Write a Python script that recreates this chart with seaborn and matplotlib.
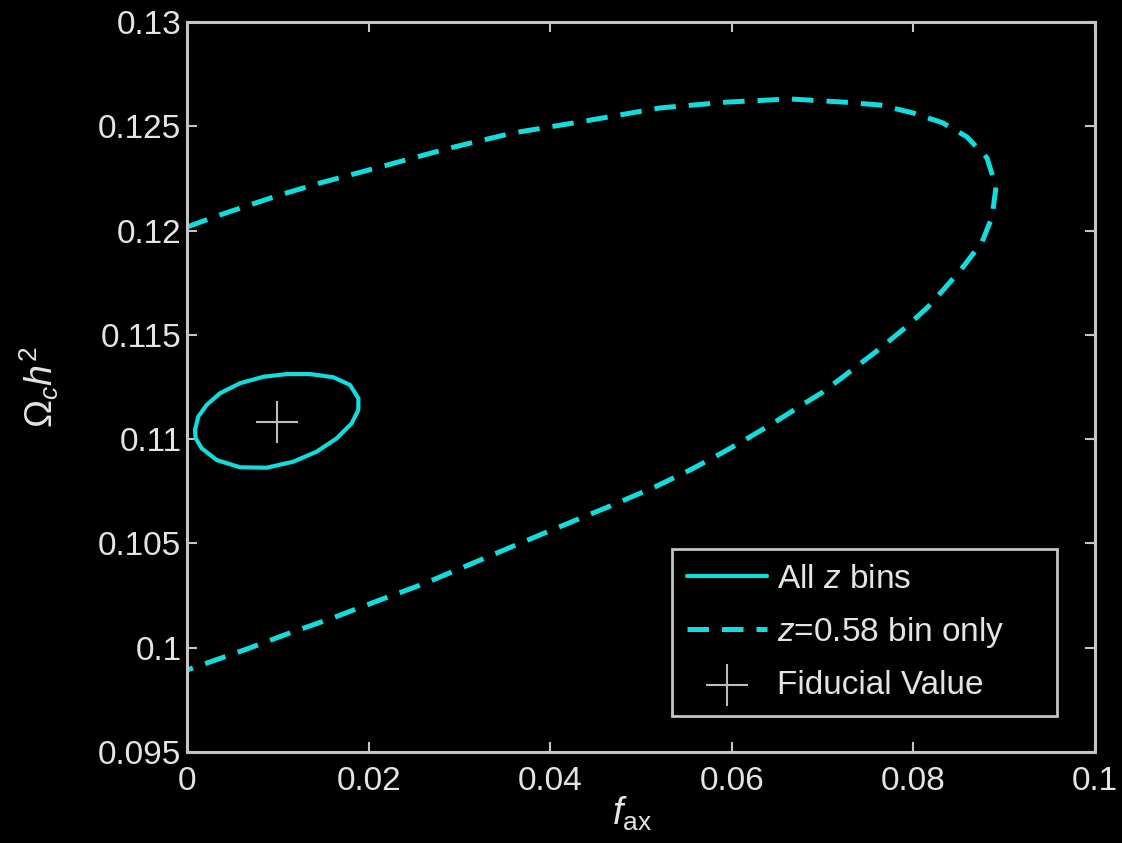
import matplotlib
matplotlib.use("Agg")
import matplotlib.pyplot as plt
import seaborn as sns

# ---- data ----
all_bins_fax = [0.00088, 0.00124, 0.00217, 0.00363, 0.00584, 0.00840, 0.01098, 0.01355,
                0.01611, 0.01795, 0.01887, 0.01887, 0.01814, 0.01649, 0.01428, 0.01171,
                0.00878, 0.00584, 0.00327, 0.00162, 0.00096, 0.00088]
all_bins_omega = [0.11044, 0.11108, 0.11164, 0.11220, 0.11268, 0.11299, 0.11312, 0.11312,
                  0.11297, 0.11260, 0.11196, 0.11140, 0.11076, 0.11004, 0.10940, 0.10892,
                  0.10863, 0.10865, 0.10900, 0.10956, 0.11004, 0.11044]

single_bin_fax = [0.0, 0.00363, 0.01024, 0.01465, 0.02203, 0.02896, 0.03590, 0.04328,
                  0.05209, 0.05947, 0.06641, 0.07225, 0.07632, 0.07996, 0.08326, 0.08590,
                  0.08811, 0.08910, 0.08866, 0.08756, 0.08546, 0.08348, 0.08161, 0.07907,
                  0.07610, 0.07280, 0.07004, 0.06718, 0.06476, 0.06178, 0.05892, 0.05540,
                  0.05154, 0.04659, 0.03965, 0.03282, 0.02599, 0.02126, 0.01575, 0.01134,
                  0.00661, 0.0]
single_bin_omega = [0.12017, 0.12075, 0.12171, 0.12228, 0.12314, 0.12396, 0.12468, 0.12521,
                    0.12588, 0.12616, 0.12631, 0.12616, 0.12602, 0.12564, 0.12516, 0.12449,
                    0.12348, 0.12209, 0.12065, 0.11945, 0.11825, 0.11725, 0.11634, 0.11533,
                    0.11427, 0.11317, 0.11226, 0.11149, 0.11082, 0.11005, 0.10934, 0.10852,
                    0.10771, 0.10679, 0.10555, 0.10430, 0.10305, 0.10229, 0.10138, 0.10071,
                    0.09994, 0.09893]

fiducial_fax = [0.00988]
fiducial_omega = [0.11084]

x_ticks = [0, 0.02, 0.04, 0.06, 0.08, 0.1]
x_tick_labels = ["0", "0.02", "0.04", "0.06", "0.08", "0.1"]
y_ticks = [0.095, 0.1, 0.105, 0.11, 0.115, 0.12, 0.125, 0.13]
y_tick_labels = ["0.095", "0.1", "0.105", "0.11", "0.115", "0.12", "0.125", "0.13"]

legend_labels = ["All $z$ bins", "$z$=0.58 bin only", "Fiducial Value"]

# ---- style ----
CYAN = "#12dcdc"
FG = "#e4e4e4"
SPINE = "#c4c4c4"

sns.set_theme(style="dark", rc={
    "axes.facecolor": "black",
    "figure.facecolor": "black",
    "axes.edgecolor": SPINE,
    "axes.grid": False,
    "text.color": FG,
    "axes.labelcolor": FG,
    "xtick.color": SPINE,
    "ytick.color": SPINE,
    "lines.solid_joinstyle": "round",
    "lines.solid_capstyle": "round",
})
plt.rcParams["font.family"] = ["Liberation Sans", "DejaVu Sans"]
plt.rcParams["mathtext.fontset"] = "custom"
plt.rcParams["mathtext.rm"] = "Liberation Sans"
plt.rcParams["mathtext.it"] = "Liberation Sans:italic"

fig = plt.figure(figsize=(11.22, 8.43), dpi=100, facecolor="black")
ax = fig.add_axes([187 / 1122, 1 - 752 / 843, 908 / 1122, 730 / 843])
ax.set_facecolor("black")

sns.lineplot(x=all_bins_fax, y=all_bins_omega, sort=False, estimator=None,
             color=CYAN, linewidth=3.0, ax=ax, label=legend_labels[0])
sns.lineplot(x=single_bin_fax, y=single_bin_omega, sort=False, estimator=None,
             color=CYAN, linewidth=3.6, linestyle=(0, (4.3, 2.6)), ax=ax,
             label=legend_labels[1])
sns.scatterplot(x=fiducial_fax, y=fiducial_omega, marker="+", s=950, color="#bdbdbd",
                linewidth=1.5, ax=ax, label=legend_labels[2], zorder=5)

ax.set_xlim(0, 0.1)
ax.set_ylim(0.095, 0.13)
ax.set_xticks(x_ticks)
ax.set_xticklabels(x_tick_labels)
ax.set_yticks(y_ticks)
ax.set_yticklabels(y_tick_labels)

ax.tick_params(axis="both", which="both", direction="in", length=7, width=1.5,
               top=True, right=True, bottom=True, left=True,
               labelsize=24, labelcolor=FG)
ax.tick_params(axis="x", pad=10)
ax.tick_params(axis="y", pad=4)
for sp in ax.spines.values():
    sp.set_color(SPINE)
    sp.set_linewidth(2.2)
    sp.set_visible(True)

ax.set_xlabel(r"$f_{\mathrm{ax}}$", fontsize=27, color=FG)
ax.set_ylabel(r"$\Omega_c h^2$", fontsize=27, color=FG)
ax.xaxis.set_label_coords(0.49, -0.058)
ax.yaxis.set_label_coords(-0.139, 0.50)

leg = ax.legend(loc="lower left", bbox_to_anchor=(0.534, 0.0493, 0.424, 0.2274),
                mode="expand", borderaxespad=0, fontsize=24, frameon=True,
                fancybox=False, framealpha=1, facecolor="black", edgecolor=SPINE,
                handlelength=2.4, handletextpad=0.3, borderpad=0.45, labelspacing=0.6)
leg.get_frame().set_linewidth(2.0)
for t in leg.get_texts():
    t.set_color(FG)

fig.savefig("out.png", dpi=100, facecolor="black")
